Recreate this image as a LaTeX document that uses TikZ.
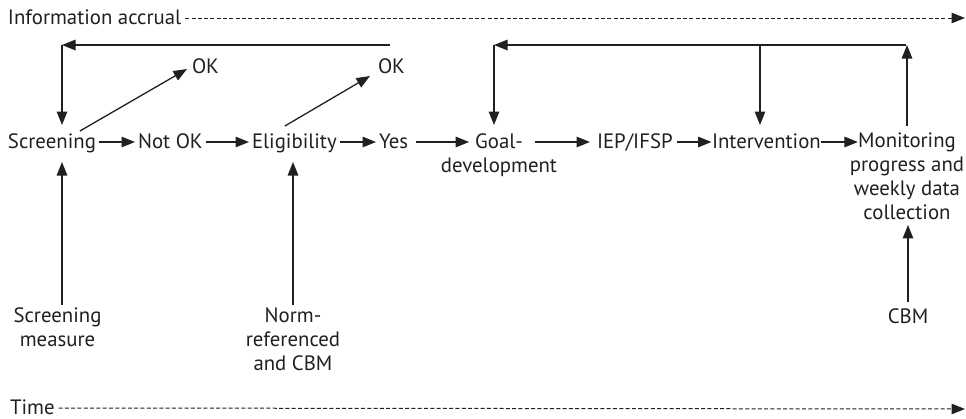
\documentclass[tikz,border=0pt]{standalone}
\usepackage{fontspec}
\setmainfont{PT Sans}
\usetikzlibrary{arrows.meta}
\definecolor{ink}{HTML}{231F20}
\begin{document}
\begin{tikzpicture}[x=1pt,y=-1pt,
  every node/.style={font=\fontsize{20.8}{24}\selectfont, text=ink, inner sep=0pt, outer sep=0pt},
  txt/.style={text height=15pt, text depth=3pt},
  multi/.style={align=center, anchor=north},
  arr/.style={draw=ink, line width=1.3pt, -{Triangle[length=13.5pt,width=10.5pt]}},
  harr/.style={arr, shorten <=3.5pt, shorten >=3pt},
  darr/.style={draw=ink, line width=1pt, dash pattern=on 4pt off 2.3pt, -{Triangle[length=13.5pt,width=10.5pt]}}
]
\useasboundingbox (0,0) rectangle (966,418);

% timeline labels
\node[txt, anchor=base west] (info) at (8,24) {Information accrual};
\node[txt, anchor=base west] (time) at (10,414) {Time};
\coordinate (infoend) at (965,18);
\coordinate (timeend) at (965,409);
\draw[darr, shorten <=4pt] (info.east) -- (infoend);
\draw[darr, shorten <=4pt] (time.east) -- (timeend);

% main row
\node[txt, anchor=base west] (scr) at (8,148) {Screening};
\node[txt, anchor=base west] (notok) at (138,148) {Not OK};
\node[txt, anchor=base west] (elig) at (252,148) {Eligibility};
\node[txt, anchor=base west] (yes) at (379,148) {Yes};
\node[txt, anchor=base west] (ok1) at (192,73) {OK};
\node[txt, anchor=base west] (ok2) at (378,73) {OK};
\node[txt, anchor=base,
  label={[name=goaldev, txt, label distance=6pt]below:development}] (goal) at (499,148) {Goal-};
\node[txt, anchor=base west] (iep) at (597,148) {IEP/IFSP};
\node[txt, anchor=base west] (interv) at (712,148) {Intervention};
\node[multi] (mon) at (907,133) {Monitoring\\progress and\\weekly data\\collection};

% inputs
\node[multi] (smeas) at (57.5,308) {Screening\\measure};
\node[multi] (norm) at (293,308) {Norm-\\referenced\\and CBM};
\node[txt, anchor=base] (cbm) at (908,323) {CBM};

% flow arrows
\draw[harr] (scr) -- (notok);
\draw[harr] (notok) -- (elig);
\draw[harr] (elig) -- (yes);
\draw[arr, shorten <=8pt, shorten >=6pt] (yes.east) -- (goal.west);
\draw[arr, shorten <=12pt, shorten >=7pt] (goal.east) -- (iep.west);
\draw[arr, shorten <=4pt, shorten >=0.5pt] (iep.east) -- (interv.west);
\draw[arr, shorten >=-8pt] (interv.east) -- (interv.east -| mon.west);

% OK diagonals
\draw[arr] ([shift={(-16,-2)}]scr.north east) -- ([shift={(-5,2)}]ok1.west);
\draw[arr] ([shift={(-9.5,-7)}]elig.north) -- ([shift={(-8,9)}]ok2.west);

% feedback loop 1
\coordinate (c1R) at (390,45);
\coordinate (c1L) at (62,45);
\draw[arr] (c1R) -- (c1L);
\draw[arr, shorten >=8pt] (c1L) -- (c1L |- scr.north);

% feedback loop 2
\coordinate (c2R) at (906,45);
\coordinate (c2M) at (760,45);
\coordinate (c2L) at (494,45);
\draw[arr, shorten <=7pt] (mon.north) -- (mon.north |- c2R);
\draw[arr] (c2R) -- (c2L);
\draw[arr, shorten >=8pt] (c2L) -- (c2L |- goal.north);
\draw[arr, shorten >=8pt] (c2M) -- (c2M |- interv.north);

% input arrows
\draw[arr, shorten <=3pt, shorten >=11pt] (smeas.north -| c1L) -- (scr.south -| c1L);
\draw[arr, shorten <=3pt, shorten >=11pt] (norm.north) -- (norm.north |- elig.south);
\draw[arr, shorten <=6pt, shorten >=5pt] (cbm.north) -- (cbm.north |- mon.south);
\end{tikzpicture}
\end{document}
